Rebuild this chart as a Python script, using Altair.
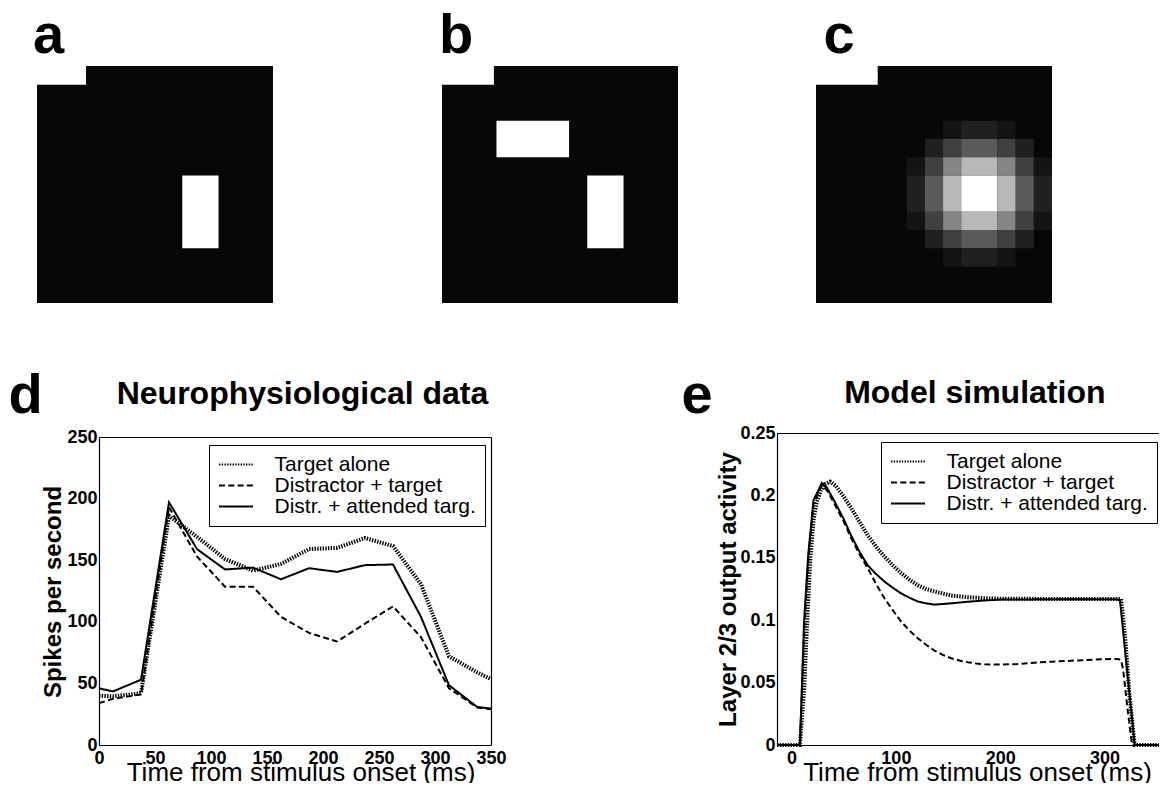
import altair as alt
import pandas as pd

FONT = "Liberation Sans"

# ---------------- panels a-c : 13 x 13 stimulus images ----------------
GRID = 13
BLACK = 7                       # grey level of the dark background
NOTCH_W = {"a": 2.70, "b": 2.86, "c": 3.40}   # white notch at the top-left corner (cells)
NOTCH_H = 1.03
# white bars: col0, col1, row0, row1, grey level
BARS = {
    "a": [(8, 10, 6, 10, 255)],
    "b": [(3, 7, 3, 5, 255), (8, 10, 6, 10, 255)],
    "c": [],
}
# attention blob of panel c: block edges and grey levels
BLOB_COL_EDGES = [5, 6, 7, 8, 10, 11, 12, 13]
BLOB_ROW_EDGES = [3, 4, 5, 6, 8, 9, 10, 11]
BLOB = [
    [7, 7, 20, 32, 20, 7, 7],
    [7, 32, 64, 90, 64, 32, 7],
    [20, 64, 133, 184, 133, 64, 20],
    [32, 90, 184, 255, 184, 90, 32],
    [20, 64, 133, 184, 133, 64, 20],
    [7, 32, 64, 90, 64, 32, 7],
    [7, 7, 20, 32, 20, 7, 7],
]

# ---------------- panel d : neurophysiological data ----------------
SERIES = ["Target alone", "Distractor + target", "Distr. + attended targ."]
T_D = [0, 12.5, 37.5, 62.5, 87.5, 112.5, 137.5, 162.5, 187.5, 212.5, 237.5, 262.5, 287.5, 312.5, 337.5, 350]
D_TARGET = [40, 39.5, 42, 186, 169, 151, 141.5, 147, 159, 160, 168, 161.5, 130.5, 72, 59, 53.5]
D_DISTRACTOR = [34, 37.5, 41, 193, 153, 128.5, 128.5, 104, 91, 84, 98.5, 112.5, 87.5, 46, 30.5, 29]
D_ATTENDED = [46, 43.5, 53, 197, 159, 142.5, 144, 134.5, 143.5, 140.5, 146, 146.5, 104, 48.5, 31, 29.5]

# ---------------- panel e : model simulation ----------------
T_E_TARGET = [-14, 8, 12, 15, 18, 21, 24, 28, 32, 37, 42, 50, 57, 65, 73, 81, 89, 97, 105, 113,
              121, 129, 137, 153, 169, 185, 200, 250, 316, 320, 324, 329, 360]
E_TARGET = [0, 0, 0.045, 0.1, 0.15, 0.18, 0.194, 0.204, 0.209, 0.211, 0.208, 0.199, 0.19, 0.179, 0.168,
            0.159, 0.151, 0.144, 0.1377, 0.1325, 0.128, 0.125, 0.123, 0.1198, 0.1184, 0.1176, 0.1172,
            0.117, 0.117, 0.085, 0.04, 0, 0]
T_E_DISTRACTOR = [-14, 8, 12, 16, 21, 29, 34, 40, 50, 57, 65, 73, 81, 89, 97, 105, 113, 121, 129, 137,
                  145, 153, 161, 169, 177, 185, 193, 201, 217, 233, 249, 265, 281, 297, 313, 316, 318,
                  322, 326, 328, 360]
E_DISTRACTOR = [0, 0, 0.09, 0.148, 0.193, 0.208, 0.204, 0.195, 0.179, 0.166, 0.153, 0.1417, 0.129,
                0.1176, 0.108, 0.0989, 0.0918, 0.0856, 0.0803, 0.0757, 0.0722, 0.0695, 0.0677, 0.0663,
                0.0653, 0.0647, 0.0645, 0.0645, 0.0649, 0.066, 0.0667, 0.0674, 0.068, 0.0687, 0.069,
                0.068, 0.06, 0.03, 0.003, 0, 0]
T_E_ATTENDED = [-14, 8, 10, 12, 16, 21, 29, 34, 40, 50, 57, 65, 73, 81, 89, 97, 105, 113, 121, 129,
                137, 153, 169, 185, 200, 250, 312, 315, 329, 360]
E_ATTENDED = [0, 0, 0.05, 0.1, 0.153, 0.196, 0.21, 0.206, 0.197, 0.181, 0.168, 0.155, 0.144, 0.137,
              0.131, 0.126, 0.1215, 0.118, 0.115, 0.1135, 0.1125, 0.1135, 0.1148, 0.1158, 0.1165,
              0.1168, 0.1168, 0.1155, 0, 0]

# ---------------- build tables ----------------
img_rows = []
for p in "abc":
    img_rows.append(dict(panel=p, x0=0, x1=GRID, y0=NOTCH_H, y1=GRID, level=BLACK))
    img_rows.append(dict(panel=p, x0=NOTCH_W[p], x1=GRID, y0=0, y1=GRID, level=BLACK))
    for c0, c1, r0, r1, lev in BARS[p]:
        img_rows.append(dict(panel=p, x0=c0, x1=c1, y0=r0, y1=r1, level=lev))
for i, row in enumerate(BLOB):
    for j, lev in enumerate(row):
        if lev > BLACK:
            img_rows.append(dict(panel="c", x0=BLOB_COL_EDGES[j], x1=BLOB_COL_EDGES[j + 1],
                                 y0=BLOB_ROW_EDGES[i], y1=BLOB_ROW_EDGES[i + 1], level=lev))
img_df = pd.DataFrame(img_rows)


def long_df(pairs):
    recs = []
    for name, ts, vs in pairs:
        for t, v in zip(ts, vs):
            recs.append(dict(series=name, t=t, v=v))
    return pd.DataFrame(recs)


df_d = long_df([(SERIES[0], T_D, D_TARGET), (SERIES[1], T_D, D_DISTRACTOR), (SERIES[2], T_D, D_ATTENDED)])
df_e = long_df([(SERIES[0], T_E_TARGET, E_TARGET), (SERIES[1], T_E_DISTRACTOR, E_DISTRACTOR),
                (SERIES[2], T_E_ATTENDED, E_ATTENDED)])

DOT = [1.4, 1.3]
DASHES = [DOT, [6, 3.3], [1, 0]]
IMG = 236
LETTER = 56


# ---------------- image panels ----------------
def image_panel(letter, dx):
    return alt.Chart(img_df).transform_filter(alt.datum.panel == letter).mark_rect(strokeWidth=0).encode(
        x=alt.X("x0:Q", scale=alt.Scale(domain=[0, GRID], nice=False, zero=False), axis=None),
        x2="x1:Q",
        y=alt.Y("y0:Q", scale=alt.Scale(domain=[0, GRID], nice=False, zero=False, reverse=True), axis=None),
        y2="y1:Q",
        color=alt.Color("level:Q", scale=alt.Scale(domain=[0, 255], range=["#000000", "#ffffff"],
                                                   interpolate="rgb"), legend=None),
    ).properties(
        width=IMG, height=237,
        title=alt.TitleParams(letter, anchor="start", font=FONT, fontSize=LETTER, fontWeight="bold",
                              color="black", baseline="alphabetic", offset=-43, dx=dx),
    )


pa = image_panel("a", -4)
pb = image_panel("b", -3)
pc = image_panel("c", 7.5)


# ---------------- line panels ----------------
def line_panel(df, xdom, xrange, xvals, ydom, yrange, yvals, yfmt, yoff, topoff, width,
               ytitle, ytx, yty, xtx, title, ttx, tty, letter, ltx, lty, right_domain, lgx, lgy):
    lab = dict(labelFont=FONT, labelFontSize=18, labelFontWeight="bold", labelColor="black")
    dom = dict(domain=True, domainColor="black", domainWidth=1.2, ticks=False, tickSize=0, grid=False)
    xscale = alt.Scale(domain=xdom, nice=False, zero=False, **({"range": xrange} if xrange else {}))
    yscale = alt.Scale(domain=ydom, nice=False, zero=False, **({"range": yrange} if yrange else {}))
    legend = alt.Legend(
        orient="none", legendX=lgx, legendY=lgy, title=None, direction="vertical",
        strokeColor="black", fillColor="white", padding=9, cornerRadius=0,
        symbolType="M-2,0H2", symbolSize=289, symbolStrokeWidth=2, symbolStrokeColor="black",
        symbolOffset=7.5, labelOffset=28, labelFont=FONT, labelFontSize=21, labelFontWeight="normal",
        labelColor="black", labelLimit=400, rowPadding=-2,
    )
    main = alt.Chart(df).transform_filter(alt.datum.series != SERIES[0]).mark_line(
        color="black", strokeWidth=2
    ).encode(
        x=alt.X("t:Q", scale=xscale, axis=alt.Axis(
            orient="bottom", values=xvals, labelFlush=False, labelOverlap=False, labelPadding=4, **lab, **dom,
            title="Time from stimulus onset (ms)", titleFont=FONT, titleFontSize=26, titleFontWeight="normal",
            titleColor="black", titleX=xtx, titleY=35, titleAlign="center", titleBaseline="alphabetic")),
        y=alt.Y("v:Q", scale=yscale, axis=alt.Axis(
            orient="left", offset=yoff, values=yvals, format=yfmt, labelOverlap=False, labelPadding=2, **lab, **dom,
            title=ytitle, titleFont=FONT, titleFontSize=24, titleFontWeight="bold", titleColor="black",
            titleAngle=270, titleX=ytx, titleY=yty, titleAlign="center", titleBaseline="alphabetic")),
        strokeDash=alt.StrokeDash("series:N", scale=alt.Scale(domain=SERIES, range=DASHES), legend=legend),
    )
    dotted = alt.Chart(df).transform_filter(alt.datum.series == SERIES[0]).mark_line(
        color="black", strokeWidth=4, strokeDash=DOT
    ).encode(
        x=alt.X("t:Q", axis=alt.Axis(
            orient="top", offset=topoff, labels=False, **dom,
            title=title, titleFont=FONT, titleFontSize=32, titleFontWeight="bold", titleColor="black",
            titleX=ttx, titleY=tty, titleAlign="center", titleBaseline="alphabetic")),
        y=alt.Y("v:Q", axis=alt.Axis(
            orient="right", labels=False, ticks=False, tickSize=0, grid=False, domain=right_domain,
            domainColor="black", domainWidth=1.2,
            title=letter, titleFont=FONT, titleFontSize=LETTER, titleFontWeight="bold", titleColor="black",
            titleAngle=0, titleX=ltx, titleY=lty, titleAlign="left", titleBaseline="alphabetic")),
    )
    return alt.layer(main, dotted).resolve_axis(x="independent", y="independent").properties(
        width=width, height=312)


# d: view spans 37..491 x 433..745 on the page; its frame is 99..491 x 437..745
pd_chart = line_panel(
    df_d, [0, 350], [62, 454], list(range(0, 351, 50)), [0, 250], [312, 4], list(range(0, 251, 50)), "d",
    -62, -4, 454, "Spikes per second", -39, 158.5, 263.5,
    "Neurophysiological data", 265, -34, "d", -483, -21, True, 172, 12)
# e: frame 776..1166 x 433..745 on the page
pe_chart = line_panel(
    df_e, [-14, 360], None, [0, 100, 200, 300], [0, 0.25], None, [0, 0.05, 0.1, 0.15, 0.2, 0.25], "~g",
    0, 0, 390, "Layer 2/3 output activity", -42, 156, 200,
    "Model simulation", 197.3, -30.3, "e", -486, -21, False, 104, 9)

row1 = alt.hconcat(pa, alt.hconcat(pb, pc, spacing=138), spacing=166)
row2 = alt.hconcat(pd_chart, pe_chart, spacing=174).resolve_scale(
    strokeDash="independent").resolve_legend(strokeDash="independent")

chart = alt.vconcat(row1, row2, spacing=64).resolve_scale(strokeDash="independent").resolve_legend(
    strokeDash="independent").properties(
    autosize=alt.AutoSizeParams(type="none"),
    padding={"left": 29, "top": 58, "right": 1122, "bottom": 717},
    background="white",
).configure(font=FONT).configure_view(stroke=None)

chart.save("out.html", embed_options={"renderer": "svg", "actions": False})
